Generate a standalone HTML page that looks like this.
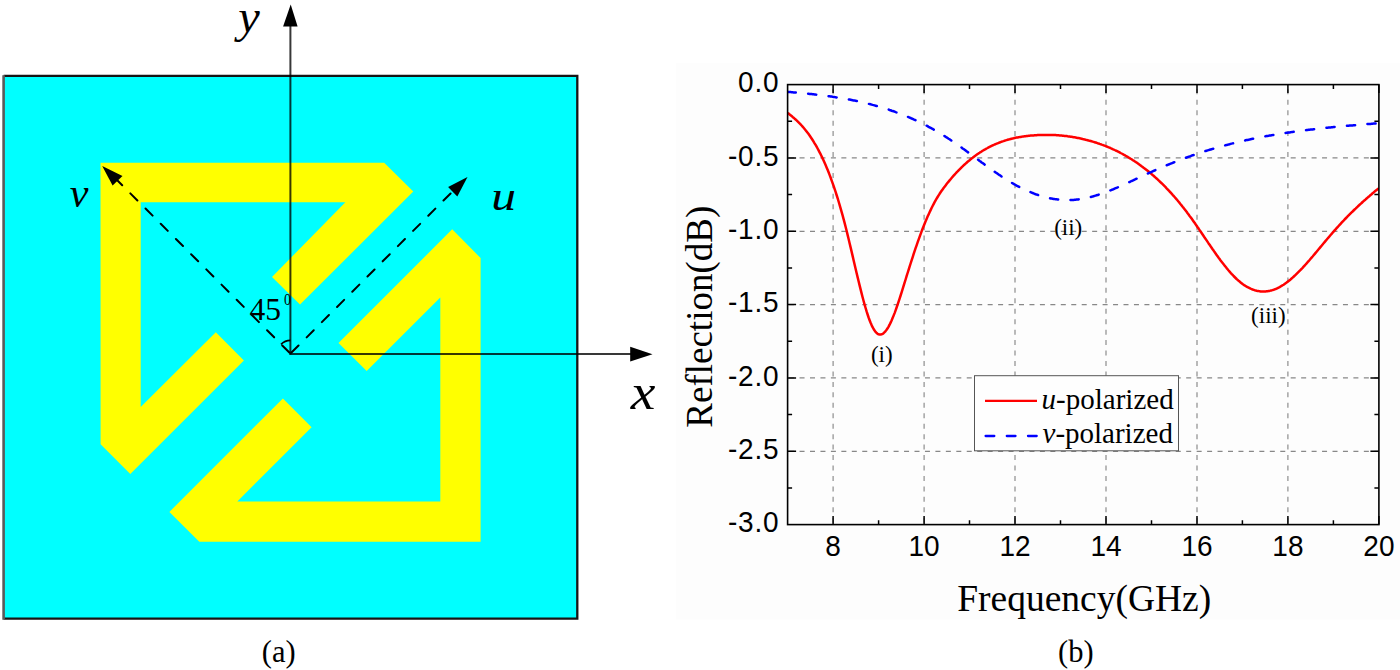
<!DOCTYPE html>
<html><head><meta charset="utf-8"><style>
html,body{margin:0;padding:0;background:#fff;}
body{width:1400px;height:670px;overflow:hidden;}
svg{display:block;}
.serif{font-family:"Liberation Serif",serif;}
.sans{font-family:"Liberation Sans",sans-serif;}
</style></head><body>
<svg width="1400" height="670" viewBox="0 0 1400 670">
<defs><clipPath id="pc"><rect x="787.6" y="81.6" width="591.3" height="443.0"/></clipPath></defs>
<rect x="0" y="0" width="1400" height="670" fill="#fff"/>
<rect x="676" y="62.8" width="724" height="556.6" fill="#fdfdfd"/>
<!-- (a) -->
<rect x="3.6" y="75.9" width="573.7" height="542.8" fill="#00ffff"/>
<path d="M3.6,75.9 H577.3 V618.7 H3.6" fill="none" stroke="#151515" stroke-width="2.3"/>
<path d="M3.6,75.2 V619.8" fill="none" stroke="#5a5a5a" stroke-width="2.6"/>
<polygon points="100.5,162.7 384.2,162.7 413.3,191.5 300.0,304.6 272.0,277.0 345.4,202.2 140.7,202.2 140.7,406.9 215.8,332.2 243.9,360.4 130.3,474.0 100.6,444.2" fill="#ffff00"/>
<polygon points="452.2,229.3 480.6,258.0 480.6,541.8 199.3,541.8 169.4,511.9 282.9,398.4 311.6,427.2 237.3,501.5 440.3,501.5 440.3,297.6 366.7,371.0 338.5,343.1" fill="#ffff00"/>
<g stroke="#000" stroke-opacity="0.78" stroke-width="2" fill="none">
<line x1="290.4" y1="354.5" x2="290.4" y2="24"/>
<line x1="289.4" y1="353.9" x2="632" y2="353.9"/>
</g>
<g stroke="#000" stroke-width="2" fill="none">
<path d="M290.4,353.6 L117,180" stroke-dasharray="10 11.5" stroke-dashoffset="-1.5" stroke-linecap="round"/>
<path d="M290.4,353.6 L453,191" stroke-dasharray="10 11.5" stroke-dashoffset="-1.5" stroke-linecap="round"/>
<path d="M281,344.4 A13.2,13.2 0 0 1 290.4,340.4" stroke-width="1.6"/>
</g>
<g fill="#000">
<polygon points="290.7,4.5 283.1,26.5 297.6,26.5"/>
<polygon points="652.5,354.2 630.2,346.8 630.2,361.6"/>
<polygon points="102.2,166.1 112.6,185.5 122.5,175.9"/>
<polygon points="467.5,176.9 448.1,187.1 457.3,196.6"/>
</g>
<g class="serif" font-style="italic" fill="#000">
<text transform="translate(238.2,31.9) scale(1.03,1)" font-size="47">y</text>
<text transform="translate(630.8,408.6) scale(1.09,1)" font-size="51">x</text>
<text x="69.8" y="206.5" font-size="42">v</text>
<text transform="translate(491.3,209.9) scale(1.18,1)" font-size="42">u</text>
</g>
<g class="serif" fill="#000">
<text x="249.6" y="320.3" font-size="31.5">45</text>
<text transform="translate(284,304.9) scale(0.82,1)" font-size="17">0</text>
<text x="261.8" y="661.6" font-size="30.5">(a)</text>
<text x="1058.1" y="661.6" font-size="30.5">(b)</text>
</g>
<!-- (b) -->
<g stroke="#888" stroke-width="1.15" stroke-dasharray="5 5.45" fill="none">
<line x1="833.1" y1="84.6" x2="833.1" y2="524.6" stroke-dashoffset="-4.7"/><line x1="924.1" y1="84.6" x2="924.1" y2="524.6" stroke-dashoffset="-4.7"/><line x1="1015.0" y1="84.6" x2="1015.0" y2="524.6" stroke-dashoffset="-4.7"/><line x1="1106.0" y1="84.6" x2="1106.0" y2="524.6" stroke-dashoffset="-4.7"/><line x1="1197.0" y1="84.6" x2="1197.0" y2="524.6" stroke-dashoffset="-4.7"/><line x1="1287.9" y1="84.6" x2="1287.9" y2="524.6" stroke-dashoffset="-4.7"/><line x1="787.6" y1="157.9" x2="1378.9" y2="157.9" stroke-dashoffset="-1.5"/><line x1="787.6" y1="231.3" x2="1378.9" y2="231.3" stroke-dashoffset="-1.5"/><line x1="787.6" y1="304.6" x2="1378.9" y2="304.6" stroke-dashoffset="-1.5"/><line x1="787.6" y1="377.9" x2="1378.9" y2="377.9" stroke-dashoffset="-1.5"/><line x1="787.6" y1="451.3" x2="1378.9" y2="451.3" stroke-dashoffset="-1.5"/>
</g>
<rect x="974.5" y="375.7" width="204" height="75.1" fill="#fefefe" stroke="#555" stroke-width="1"/>
<path clip-path="url(#pc)" d="M787.6,112.9 L788.6,113.6 L789.6,114.4 L790.6,115.2 L791.6,116.0 L792.6,116.9 L793.6,117.7 L794.6,118.6 L795.6,119.5 L796.6,120.4 L797.6,121.4 L798.6,122.4 L799.6,123.4 L800.6,124.4 L801.6,125.5 L802.6,126.6 L803.6,127.8 L804.6,129.0 L805.6,130.2 L806.6,131.5 L807.6,132.8 L808.6,134.1 L809.6,135.5 L810.6,137.0 L811.6,138.5 L812.6,140.0 L813.6,141.6 L814.6,143.3 L815.6,144.9 L816.6,146.7 L817.6,148.5 L818.6,150.4 L819.6,152.3 L820.6,154.2 L821.6,156.3 L822.6,158.4 L823.6,160.5 L824.6,162.8 L825.6,165.1 L826.6,167.4 L827.6,169.8 L828.6,172.3 L829.6,174.9 L830.6,177.5 L831.6,180.3 L832.6,183.1 L833.6,185.9 L834.6,188.9 L835.6,191.9 L836.6,195.0 L837.6,198.2 L838.6,201.5 L839.6,204.8 L840.6,208.3 L841.6,211.8 L842.6,215.4 L843.6,219.1 L844.6,222.9 L845.6,226.8 L846.6,230.8 L847.6,234.9 L848.6,239.0 L849.6,243.2 L850.6,247.4 L851.6,251.6 L852.6,255.9 L853.6,260.2 L854.6,264.5 L855.6,268.7 L856.6,273.0 L857.6,277.1 L858.6,281.3 L859.6,285.4 L860.6,289.4 L861.6,293.4 L862.6,297.2 L863.6,301.0 L864.6,304.6 L865.6,308.0 L866.6,311.4 L867.6,314.5 L868.6,317.5 L869.6,320.2 L870.6,322.8 L871.6,325.1 L872.6,327.2 L873.6,329.0 L874.6,330.6 L875.6,331.9 L876.6,333.0 L877.6,333.8 L878.6,334.3 L879.6,334.6 L880.6,334.6 L881.6,334.3 L882.6,333.9 L883.6,333.2 L884.6,332.2 L885.6,331.1 L886.6,329.8 L887.6,328.3 L888.6,326.6 L889.6,324.7 L890.6,322.6 L891.6,320.5 L892.6,318.1 L893.6,315.6 L894.6,313.1 L895.6,310.3 L896.6,307.5 L897.6,304.6 L898.6,301.6 L899.6,298.6 L900.6,295.5 L901.6,292.3 L902.6,289.1 L903.6,285.9 L904.6,282.7 L905.6,279.5 L906.6,276.2 L907.6,273.0 L908.6,269.8 L909.6,266.7 L910.6,263.5 L911.6,260.4 L912.6,257.3 L913.6,254.2 L914.6,251.2 L915.6,248.2 L916.6,245.3 L917.6,242.4 L918.6,239.6 L919.6,236.8 L920.6,234.1 L921.6,231.4 L922.6,228.8 L923.6,226.3 L924.6,223.8 L925.6,221.3 L926.6,219.0 L927.6,216.6 L928.6,214.4 L929.6,212.2 L930.6,210.1 L931.6,208.0 L932.6,206.0 L933.6,204.1 L934.6,202.2 L935.6,200.4 L936.6,198.7 L937.6,197.0 L938.6,195.4 L939.6,193.8 L940.6,192.3 L941.6,190.8 L942.6,189.4 L943.6,188.0 L944.6,186.7 L945.6,185.4 L946.6,184.1 L947.6,182.8 L948.6,181.6 L949.6,180.4 L950.6,179.2 L951.6,178.0 L952.6,176.8 L953.6,175.7 L954.6,174.6 L955.6,173.5 L956.6,172.4 L957.6,171.4 L958.6,170.3 L959.6,169.3 L960.6,168.3 L961.6,167.3 L962.6,166.4 L963.6,165.4 L964.6,164.5 L965.6,163.6 L966.6,162.7 L967.6,161.8 L968.6,161.0 L969.6,160.2 L970.6,159.3 L971.6,158.5 L972.6,157.8 L973.6,157.0 L974.6,156.2 L975.6,155.5 L976.6,154.8 L977.6,154.1 L978.6,153.4 L979.6,152.8 L980.6,152.1 L981.6,151.5 L982.6,150.8 L983.6,150.2 L984.6,149.6 L985.6,149.1 L986.6,148.5 L987.6,148.0 L988.6,147.4 L989.6,146.9 L990.6,146.4 L991.6,145.9 L992.6,145.4 L993.6,145.0 L994.6,144.5 L995.6,144.1 L996.6,143.7 L997.6,143.3 L998.6,142.9 L999.6,142.5 L1000.6,142.1 L1001.6,141.7 L1002.6,141.4 L1003.6,141.1 L1004.6,140.7 L1005.6,140.4 L1006.6,140.1 L1007.6,139.8 L1008.6,139.5 L1009.6,139.3 L1010.6,139.0 L1011.6,138.7 L1012.6,138.5 L1013.6,138.3 L1014.6,138.0 L1015.6,137.8 L1016.6,137.6 L1017.6,137.4 L1018.6,137.2 L1019.6,137.1 L1020.6,136.9 L1021.6,136.7 L1022.6,136.6 L1023.6,136.4 L1024.6,136.3 L1025.6,136.2 L1026.6,136.0 L1027.6,135.9 L1028.6,135.8 L1029.6,135.7 L1030.6,135.6 L1031.6,135.5 L1032.6,135.4 L1033.6,135.4 L1034.6,135.3 L1035.6,135.2 L1036.6,135.2 L1037.6,135.1 L1038.6,135.1 L1039.6,135.0 L1040.6,135.0 L1041.6,135.0 L1042.6,134.9 L1043.6,134.9 L1044.6,134.9 L1045.6,134.9 L1046.6,134.9 L1047.6,134.9 L1048.6,134.9 L1049.6,134.9 L1050.6,134.9 L1051.6,135.0 L1052.6,135.0 L1053.6,135.0 L1054.6,135.1 L1055.6,135.1 L1056.6,135.2 L1057.6,135.3 L1058.6,135.3 L1059.6,135.4 L1060.6,135.5 L1061.6,135.6 L1062.6,135.7 L1063.6,135.8 L1064.6,135.9 L1065.6,136.0 L1066.6,136.1 L1067.6,136.3 L1068.6,136.4 L1069.6,136.5 L1070.6,136.7 L1071.6,136.8 L1072.6,137.0 L1073.6,137.2 L1074.6,137.3 L1075.6,137.5 L1076.6,137.7 L1077.6,137.9 L1078.6,138.1 L1079.6,138.3 L1080.6,138.5 L1081.6,138.7 L1082.6,139.0 L1083.6,139.2 L1084.6,139.4 L1085.6,139.7 L1086.6,139.9 L1087.6,140.2 L1088.6,140.5 L1089.6,140.7 L1090.6,141.0 L1091.6,141.3 L1092.6,141.6 L1093.6,141.9 L1094.6,142.2 L1095.6,142.5 L1096.6,142.8 L1097.6,143.2 L1098.6,143.5 L1099.6,143.9 L1100.6,144.2 L1101.6,144.6 L1102.6,144.9 L1103.6,145.3 L1104.6,145.7 L1105.6,146.1 L1106.6,146.5 L1107.6,146.9 L1108.6,147.3 L1109.6,147.7 L1110.6,148.2 L1111.6,148.6 L1112.6,149.1 L1113.6,149.5 L1114.6,150.0 L1115.6,150.5 L1116.6,150.9 L1117.6,151.4 L1118.6,151.9 L1119.6,152.4 L1120.6,153.0 L1121.6,153.5 L1122.6,154.0 L1123.6,154.6 L1124.6,155.1 L1125.6,155.7 L1126.6,156.3 L1127.6,156.9 L1128.6,157.5 L1129.6,158.1 L1130.6,158.7 L1131.6,159.3 L1132.6,160.0 L1133.6,160.6 L1134.6,161.3 L1135.6,161.9 L1136.6,162.6 L1137.6,163.3 L1138.6,164.0 L1139.6,164.7 L1140.6,165.4 L1141.6,166.2 L1142.6,166.9 L1143.6,167.7 L1144.6,168.4 L1145.6,169.2 L1146.6,170.0 L1147.6,170.8 L1148.6,171.6 L1149.6,172.4 L1150.6,173.3 L1151.6,174.1 L1152.6,175.0 L1153.6,175.8 L1154.6,176.7 L1155.6,177.6 L1156.6,178.5 L1157.6,179.4 L1158.6,180.4 L1159.6,181.3 L1160.6,182.3 L1161.6,183.2 L1162.6,184.2 L1163.6,185.2 L1164.6,186.2 L1165.6,187.2 L1166.6,188.3 L1167.6,189.3 L1168.6,190.4 L1169.6,191.5 L1170.6,192.5 L1171.6,193.6 L1172.6,194.8 L1173.6,195.9 L1174.6,197.0 L1175.6,198.2 L1176.6,199.3 L1177.6,200.5 L1178.6,201.7 L1179.6,202.9 L1180.6,204.2 L1181.6,205.4 L1182.6,206.7 L1183.6,207.9 L1184.6,209.2 L1185.6,210.5 L1186.6,211.8 L1187.6,213.2 L1188.6,214.5 L1189.6,215.9 L1190.6,217.2 L1191.6,218.6 L1192.6,220.0 L1193.6,221.4 L1194.6,222.8 L1195.6,224.3 L1196.6,225.7 L1197.6,227.2 L1198.6,228.6 L1199.6,230.1 L1200.6,231.6 L1201.6,233.0 L1202.6,234.5 L1203.6,236.0 L1204.6,237.5 L1205.6,238.9 L1206.6,240.4 L1207.6,241.9 L1208.6,243.4 L1209.6,244.8 L1210.6,246.3 L1211.6,247.7 L1212.6,249.2 L1213.6,250.6 L1214.6,252.1 L1215.6,253.5 L1216.6,254.9 L1217.6,256.3 L1218.6,257.7 L1219.6,259.0 L1220.6,260.4 L1221.6,261.7 L1222.6,263.0 L1223.6,264.3 L1224.6,265.6 L1225.6,266.8 L1226.6,268.1 L1227.6,269.3 L1228.6,270.5 L1229.6,271.6 L1230.6,272.8 L1231.6,273.9 L1232.6,274.9 L1233.6,276.0 L1234.6,277.0 L1235.6,278.0 L1236.6,279.0 L1237.6,279.9 L1238.6,280.8 L1239.6,281.6 L1240.6,282.4 L1241.6,283.2 L1242.6,284.0 L1243.6,284.7 L1244.6,285.4 L1245.6,286.0 L1246.6,286.6 L1247.6,287.2 L1248.6,287.7 L1249.6,288.2 L1250.6,288.7 L1251.6,289.1 L1252.6,289.5 L1253.6,289.8 L1254.6,290.2 L1255.6,290.4 L1256.6,290.7 L1257.6,290.9 L1258.6,291.1 L1259.6,291.2 L1260.6,291.4 L1261.6,291.4 L1262.6,291.5 L1263.6,291.5 L1264.6,291.5 L1265.6,291.4 L1266.6,291.3 L1267.6,291.2 L1268.6,291.0 L1269.6,290.9 L1270.6,290.6 L1271.6,290.4 L1272.6,290.1 L1273.6,289.8 L1274.6,289.4 L1275.6,289.0 L1276.6,288.6 L1277.6,288.1 L1278.6,287.6 L1279.6,287.1 L1280.6,286.5 L1281.6,285.9 L1282.6,285.3 L1283.6,284.7 L1284.6,284.0 L1285.6,283.3 L1286.6,282.6 L1287.6,281.8 L1288.6,281.0 L1289.6,280.2 L1290.6,279.4 L1291.6,278.5 L1292.6,277.6 L1293.6,276.7 L1294.6,275.8 L1295.6,274.9 L1296.6,273.9 L1297.6,272.9 L1298.6,271.9 L1299.6,270.9 L1300.6,269.9 L1301.6,268.8 L1302.6,267.8 L1303.6,266.7 L1304.6,265.6 L1305.6,264.5 L1306.6,263.4 L1307.6,262.2 L1308.6,261.1 L1309.6,260.0 L1310.6,258.8 L1311.6,257.6 L1312.6,256.5 L1313.6,255.3 L1314.6,254.1 L1315.6,252.9 L1316.6,251.7 L1317.6,250.5 L1318.6,249.3 L1319.6,248.1 L1320.6,246.9 L1321.6,245.7 L1322.6,244.5 L1323.6,243.3 L1324.6,242.1 L1325.6,240.9 L1326.6,239.7 L1327.6,238.5 L1328.6,237.4 L1329.6,236.2 L1330.6,235.0 L1331.6,233.9 L1332.6,232.7 L1333.6,231.6 L1334.6,230.4 L1335.6,229.3 L1336.6,228.2 L1337.6,227.1 L1338.6,226.0 L1339.6,224.9 L1340.6,223.8 L1341.6,222.7 L1342.6,221.6 L1343.6,220.6 L1344.6,219.5 L1345.6,218.5 L1346.6,217.5 L1347.6,216.4 L1348.6,215.4 L1349.6,214.4 L1350.6,213.4 L1351.6,212.4 L1352.6,211.5 L1353.6,210.5 L1354.6,209.5 L1355.6,208.6 L1356.6,207.6 L1357.6,206.7 L1358.6,205.7 L1359.6,204.8 L1360.6,203.9 L1361.6,203.0 L1362.6,202.0 L1363.6,201.1 L1364.6,200.2 L1365.6,199.4 L1366.6,198.5 L1367.6,197.6 L1368.6,196.7 L1369.6,195.9 L1370.6,195.0 L1371.6,194.2 L1372.6,193.3 L1373.6,192.5 L1374.6,191.6 L1375.6,190.8 L1376.6,190.0 L1377.6,189.2 L1378.6,188.4 L1378.9,188.1" fill="none" stroke="#ff0000" stroke-width="2.5" stroke-linejoin="round"/>
<path clip-path="url(#pc)" d="M787.6,91.9 L788.6,91.9 L789.6,92.0 L790.6,92.1 L791.6,92.2 L792.6,92.3 L793.6,92.4 L794.6,92.5 L795.6,92.5 L796.6,92.6 L797.6,92.7 L798.6,92.8 L799.6,92.9 L800.6,93.0 L801.6,93.1 L802.6,93.2 L803.6,93.3 L804.6,93.4 L805.6,93.5 L806.6,93.6 L807.6,93.7 L808.6,93.8 L809.6,93.9 L810.6,94.0 L811.6,94.1 L812.6,94.2 L813.6,94.3 L814.6,94.4 L815.6,94.6 L816.6,94.7 L817.6,94.8 L818.6,94.9 L819.6,95.0 L820.6,95.1 L821.6,95.3 L822.6,95.4 L823.6,95.5 L824.6,95.7 L825.6,95.8 L826.6,95.9 L827.6,96.1 L828.6,96.2 L829.6,96.3 L830.6,96.5 L831.6,96.6 L832.6,96.8 L833.6,96.9 L834.6,97.1 L835.6,97.2 L836.6,97.4 L837.6,97.5 L838.6,97.7 L839.6,97.8 L840.6,98.0 L841.6,98.2 L842.6,98.4 L843.6,98.5 L844.6,98.7 L845.6,98.9 L846.6,99.1 L847.6,99.2 L848.6,99.4 L849.6,99.6 L850.6,99.8 L851.6,100.0 L852.6,100.2 L853.6,100.4 L854.6,100.6 L855.6,100.8 L856.6,101.0 L857.6,101.2 L858.6,101.5 L859.6,101.7 L860.6,101.9 L861.6,102.1 L862.6,102.4 L863.6,102.6 L864.6,102.8 L865.6,103.1 L866.6,103.3 L867.6,103.6 L868.6,103.8 L869.6,104.1 L870.6,104.3 L871.6,104.6 L872.6,104.9 L873.6,105.1 L874.6,105.4 L875.6,105.7 L876.6,106.0 L877.6,106.2 L878.6,106.5 L879.6,106.8 L880.6,107.1 L881.6,107.4 L882.6,107.7 L883.6,108.0 L884.6,108.3 L885.6,108.7 L886.6,109.0 L887.6,109.3 L888.6,109.6 L889.6,110.0 L890.6,110.3 L891.6,110.7 L892.6,111.0 L893.6,111.3 L894.6,111.7 L895.6,112.1 L896.6,112.4 L897.6,112.8 L898.6,113.2 L899.6,113.6 L900.6,113.9 L901.6,114.3 L902.6,114.7 L903.6,115.1 L904.6,115.5 L905.6,115.9 L906.6,116.3 L907.6,116.8 L908.6,117.2 L909.6,117.6 L910.6,118.0 L911.6,118.5 L912.6,118.9 L913.6,119.4 L914.6,119.8 L915.6,120.3 L916.6,120.8 L917.6,121.2 L918.6,121.7 L919.6,122.2 L920.6,122.7 L921.6,123.2 L922.6,123.7 L923.6,124.2 L924.6,124.7 L925.6,125.2 L926.6,125.7 L927.6,126.2 L928.6,126.8 L929.6,127.3 L930.6,127.8 L931.6,128.4 L932.6,128.9 L933.6,129.5 L934.6,130.1 L935.6,130.6 L936.6,131.2 L937.6,131.8 L938.6,132.4 L939.6,133.0 L940.6,133.6 L941.6,134.2 L942.6,134.8 L943.6,135.5 L944.6,136.1 L945.6,136.7 L946.6,137.4 L947.6,138.0 L948.6,138.7 L949.6,139.3 L950.6,140.0 L951.6,140.7 L952.6,141.3 L953.6,142.0 L954.6,142.7 L955.6,143.4 L956.6,144.1 L957.6,144.8 L958.6,145.5 L959.6,146.2 L960.6,146.9 L961.6,147.6 L962.6,148.4 L963.6,149.1 L964.6,149.8 L965.6,150.5 L966.6,151.3 L967.6,152.0 L968.6,152.7 L969.6,153.5 L970.6,154.2 L971.6,155.0 L972.6,155.7 L973.6,156.4 L974.6,157.2 L975.6,157.9 L976.6,158.7 L977.6,159.4 L978.6,160.1 L979.6,160.9 L980.6,161.6 L981.6,162.4 L982.6,163.1 L983.6,163.8 L984.6,164.6 L985.6,165.3 L986.6,166.0 L987.6,166.7 L988.6,167.5 L989.6,168.2 L990.6,168.9 L991.6,169.6 L992.6,170.3 L993.6,171.0 L994.6,171.7 L995.6,172.4 L996.6,173.1 L997.6,173.8 L998.6,174.5 L999.6,175.1 L1000.6,175.8 L1001.6,176.5 L1002.6,177.1 L1003.6,177.8 L1004.6,178.4 L1005.6,179.1 L1006.6,179.7 L1007.6,180.3 L1008.6,180.9 L1009.6,181.5 L1010.6,182.1 L1011.6,182.7 L1012.6,183.3 L1013.6,183.9 L1014.6,184.5 L1015.6,185.0 L1016.6,185.6 L1017.6,186.1 L1018.6,186.6 L1019.6,187.1 L1020.6,187.7 L1021.6,188.2 L1022.6,188.7 L1023.6,189.1 L1024.6,189.6 L1025.6,190.1 L1026.6,190.5 L1027.6,191.0 L1028.6,191.4 L1029.6,191.8 L1030.6,192.2 L1031.6,192.6 L1032.6,193.0 L1033.6,193.4 L1034.6,193.8 L1035.6,194.2 L1036.6,194.5 L1037.6,194.9 L1038.6,195.2 L1039.6,195.5 L1040.6,195.8 L1041.6,196.1 L1042.6,196.4 L1043.6,196.7 L1044.6,197.0 L1045.6,197.2 L1046.6,197.5 L1047.6,197.7 L1048.6,197.9 L1049.6,198.2 L1050.6,198.4 L1051.6,198.5 L1052.6,198.7 L1053.6,198.9 L1054.6,199.1 L1055.6,199.2 L1056.6,199.3 L1057.6,199.5 L1058.6,199.6 L1059.6,199.7 L1060.6,199.8 L1061.6,199.9 L1062.6,199.9 L1063.6,200.0 L1064.6,200.0 L1065.6,200.1 L1066.6,200.1 L1067.6,200.1 L1068.6,200.1 L1069.6,200.1 L1070.6,200.0 L1071.6,200.0 L1072.6,199.9 L1073.6,199.9 L1074.6,199.8 L1075.6,199.7 L1076.6,199.6 L1077.6,199.5 L1078.6,199.4 L1079.6,199.2 L1080.6,199.1 L1081.6,198.9 L1082.6,198.7 L1083.6,198.6 L1084.6,198.4 L1085.6,198.2 L1086.6,198.0 L1087.6,197.7 L1088.6,197.5 L1089.6,197.3 L1090.6,197.0 L1091.6,196.7 L1092.6,196.5 L1093.6,196.2 L1094.6,195.9 L1095.6,195.6 L1096.6,195.3 L1097.6,195.0 L1098.6,194.7 L1099.6,194.3 L1100.6,194.0 L1101.6,193.7 L1102.6,193.3 L1103.6,193.0 L1104.6,192.6 L1105.6,192.2 L1106.6,191.8 L1107.6,191.5 L1108.6,191.1 L1109.6,190.7 L1110.6,190.3 L1111.6,189.9 L1112.6,189.5 L1113.6,189.1 L1114.6,188.6 L1115.6,188.2 L1116.6,187.8 L1117.6,187.4 L1118.6,186.9 L1119.6,186.5 L1120.6,186.1 L1121.6,185.6 L1122.6,185.2 L1123.6,184.7 L1124.6,184.3 L1125.6,183.8 L1126.6,183.4 L1127.6,182.9 L1128.6,182.4 L1129.6,182.0 L1130.6,181.5 L1131.6,181.0 L1132.6,180.6 L1133.6,180.1 L1134.6,179.6 L1135.6,179.2 L1136.6,178.7 L1137.6,178.2 L1138.6,177.8 L1139.6,177.3 L1140.6,176.8 L1141.6,176.4 L1142.6,175.9 L1143.6,175.5 L1144.6,175.0 L1145.6,174.5 L1146.6,174.1 L1147.6,173.6 L1148.6,173.2 L1149.6,172.7 L1150.6,172.3 L1151.6,171.8 L1152.6,171.4 L1153.6,170.9 L1154.6,170.5 L1155.6,170.0 L1156.6,169.6 L1157.6,169.2 L1158.6,168.7 L1159.6,168.3 L1160.6,167.9 L1161.6,167.4 L1162.6,167.0 L1163.6,166.6 L1164.6,166.2 L1165.6,165.8 L1166.6,165.3 L1167.6,164.9 L1168.6,164.5 L1169.6,164.1 L1170.6,163.7 L1171.6,163.3 L1172.6,162.9 L1173.6,162.5 L1174.6,162.1 L1175.6,161.7 L1176.6,161.3 L1177.6,160.9 L1178.6,160.5 L1179.6,160.1 L1180.6,159.8 L1181.6,159.4 L1182.6,159.0 L1183.6,158.6 L1184.6,158.2 L1185.6,157.9 L1186.6,157.5 L1187.6,157.1 L1188.6,156.8 L1189.6,156.4 L1190.6,156.1 L1191.6,155.7 L1192.6,155.3 L1193.6,155.0 L1194.6,154.6 L1195.6,154.3 L1196.6,154.0 L1197.6,153.6 L1198.6,153.3 L1199.6,153.0 L1200.6,152.6 L1201.6,152.3 L1202.6,152.0 L1203.6,151.6 L1204.6,151.3 L1205.6,151.0 L1206.6,150.7 L1207.6,150.4 L1208.6,150.1 L1209.6,149.8 L1210.6,149.5 L1211.6,149.2 L1212.6,148.9 L1213.6,148.6 L1214.6,148.3 L1215.6,148.0 L1216.6,147.7 L1217.6,147.4 L1218.6,147.1 L1219.6,146.8 L1220.6,146.6 L1221.6,146.3 L1222.6,146.0 L1223.6,145.7 L1224.6,145.5 L1225.6,145.2 L1226.6,144.9 L1227.6,144.7 L1228.6,144.4 L1229.6,144.2 L1230.6,143.9 L1231.6,143.6 L1232.6,143.4 L1233.6,143.1 L1234.6,142.9 L1235.6,142.7 L1236.6,142.4 L1237.6,142.2 L1238.6,141.9 L1239.6,141.7 L1240.6,141.5 L1241.6,141.2 L1242.6,141.0 L1243.6,140.8 L1244.6,140.6 L1245.6,140.3 L1246.6,140.1 L1247.6,139.9 L1248.6,139.7 L1249.6,139.5 L1250.6,139.2 L1251.6,139.0 L1252.6,138.8 L1253.6,138.6 L1254.6,138.4 L1255.6,138.2 L1256.6,138.0 L1257.6,137.8 L1258.6,137.6 L1259.6,137.4 L1260.6,137.2 L1261.6,137.0 L1262.6,136.9 L1263.6,136.7 L1264.6,136.5 L1265.6,136.3 L1266.6,136.1 L1267.6,135.9 L1268.6,135.8 L1269.6,135.6 L1270.6,135.4 L1271.6,135.2 L1272.6,135.1 L1273.6,134.9 L1274.6,134.7 L1275.6,134.5 L1276.6,134.4 L1277.6,134.2 L1278.6,134.1 L1279.6,133.9 L1280.6,133.7 L1281.6,133.6 L1282.6,133.4 L1283.6,133.3 L1284.6,133.1 L1285.6,133.0 L1286.6,132.8 L1287.6,132.7 L1288.6,132.5 L1289.6,132.4 L1290.6,132.2 L1291.6,132.1 L1292.6,131.9 L1293.6,131.8 L1294.6,131.7 L1295.6,131.5 L1296.6,131.4 L1297.6,131.2 L1298.6,131.1 L1299.6,131.0 L1300.6,130.9 L1301.6,130.7 L1302.6,130.6 L1303.6,130.5 L1304.6,130.3 L1305.6,130.2 L1306.6,130.1 L1307.6,130.0 L1308.6,129.8 L1309.6,129.7 L1310.6,129.6 L1311.6,129.5 L1312.6,129.4 L1313.6,129.2 L1314.6,129.1 L1315.6,129.0 L1316.6,128.9 L1317.6,128.8 L1318.6,128.7 L1319.6,128.6 L1320.6,128.5 L1321.6,128.4 L1322.6,128.2 L1323.6,128.1 L1324.6,128.0 L1325.6,127.9 L1326.6,127.8 L1327.6,127.7 L1328.6,127.6 L1329.6,127.5 L1330.6,127.4 L1331.6,127.3 L1332.6,127.2 L1333.6,127.1 L1334.6,127.0 L1335.6,126.9 L1336.6,126.8 L1337.6,126.7 L1338.6,126.6 L1339.6,126.5 L1340.6,126.4 L1341.6,126.4 L1342.6,126.3 L1343.6,126.2 L1344.6,126.1 L1345.6,126.0 L1346.6,125.9 L1347.6,125.8 L1348.6,125.7 L1349.6,125.6 L1350.6,125.5 L1351.6,125.4 L1352.6,125.4 L1353.6,125.3 L1354.6,125.2 L1355.6,125.1 L1356.6,125.0 L1357.6,124.9 L1358.6,124.8 L1359.6,124.8 L1360.6,124.7 L1361.6,124.6 L1362.6,124.5 L1363.6,124.4 L1364.6,124.3 L1365.6,124.3 L1366.6,124.2 L1367.6,124.1 L1368.6,124.0 L1369.6,123.9 L1370.6,123.9 L1371.6,123.8 L1372.6,123.7 L1373.6,123.6 L1374.6,123.5 L1375.6,123.4 L1376.6,123.4 L1377.6,123.3 L1378.6,123.2 L1378.9,123.2" fill="none" stroke="#0000ff" stroke-width="2.5" stroke-dasharray="8.2 12.4" stroke-linecap="round"/>
<rect x="787.6" y="84.6" width="591.3" height="440.0" fill="none" stroke="#000" stroke-width="1.6"/>
<path d="M833.1,524.6 v-8.5 M833.1,84.6 v8.5 M878.6,524.6 v-4.3 M878.6,84.6 v4.3 M924.1,524.6 v-8.5 M924.1,84.6 v8.5 M969.5,524.6 v-4.3 M969.5,84.6 v4.3 M1015.0,524.6 v-8.5 M1015.0,84.6 v8.5 M1060.5,524.6 v-4.3 M1060.5,84.6 v4.3 M1106.0,524.6 v-8.5 M1106.0,84.6 v8.5 M1151.5,524.6 v-4.3 M1151.5,84.6 v4.3 M1197.0,524.6 v-8.5 M1197.0,84.6 v8.5 M1242.4,524.6 v-4.3 M1242.4,84.6 v4.3 M1287.9,524.6 v-8.5 M1287.9,84.6 v8.5 M1333.4,524.6 v-4.3 M1333.4,84.6 v4.3 M1378.9,524.6 v-8.5 M1378.9,84.6 v8.5 M787.6,121.3 h4.5 M1378.9,121.3 h-4.5 M787.6,157.9 h8.5 M1378.9,157.9 h-8.5 M787.6,194.6 h4.5 M1378.9,194.6 h-4.5 M787.6,231.3 h8.5 M1378.9,231.3 h-8.5 M787.6,267.9 h4.5 M1378.9,267.9 h-4.5 M787.6,304.6 h8.5 M1378.9,304.6 h-8.5 M787.6,341.3 h4.5 M1378.9,341.3 h-4.5 M787.6,377.9 h8.5 M1378.9,377.9 h-8.5 M787.6,414.6 h4.5 M1378.9,414.6 h-4.5 M787.6,451.3 h8.5 M1378.9,451.3 h-8.5 M787.6,487.9 h4.5 M1378.9,487.9 h-4.5" stroke="#000" stroke-width="1.5" fill="none"/>
<g class="sans" font-size="29" fill="#000" text-anchor="middle"><text transform="translate(833.1,556) scale(0.966,1)">8</text><text transform="translate(924.1,556) scale(0.966,1)">10</text><text transform="translate(1015.0,556) scale(0.966,1)">12</text><text transform="translate(1106.0,556) scale(0.966,1)">14</text><text transform="translate(1197.0,556) scale(0.966,1)">16</text><text transform="translate(1287.9,556) scale(0.966,1)">18</text><text transform="translate(1378.9,556) scale(0.966,1)">20</text></g>
<g class="sans" font-size="29" fill="#000" text-anchor="end" letter-spacing="0.85"><text transform="translate(779.45,92.3) scale(0.966,1)">0.0</text><text transform="translate(779.45,165.6) scale(0.966,1)">-0.5</text><text transform="translate(779.45,239.0) scale(0.966,1)">-1.0</text><text transform="translate(779.45,312.3) scale(0.966,1)">-1.5</text><text transform="translate(779.45,385.6) scale(0.966,1)">-2.0</text><text transform="translate(779.45,459.0) scale(0.966,1)">-2.5</text><text transform="translate(779.45,532.3) scale(0.966,1)">-3.0</text></g>
<g class="serif" fill="#000">
<text x="957.2" y="610.9" font-size="37.5">Frequency(GHz)</text>
<text transform="translate(712.1,427.7) rotate(-90)" font-size="37">Reflection(dB)</text>
<text x="870.9" y="362.3" font-size="23">(i)</text>
<text x="1068.2" y="234.7" font-size="23" text-anchor="middle">(ii)</text>
<text x="1268.35" y="323.2" font-size="23" text-anchor="middle">(iii)</text>
</g>
<line x1="985" y1="400.8" x2="1037" y2="400.8" stroke="#ff0000" stroke-width="2.3"/>
<line x1="985.6" y1="436" x2="1037" y2="436" stroke="#0000ff" stroke-width="2.3" stroke-dasharray="8.7 12.5" stroke-linecap="round"/>
<g class="serif" font-size="29" fill="#000">
<text x="1041.6" y="408.5"><tspan font-style="italic">u</tspan>-polarized</text>
<text x="1042.5" y="443"><tspan font-style="italic">v</tspan>-polarized</text>
</g>
</svg>
</body></html>
